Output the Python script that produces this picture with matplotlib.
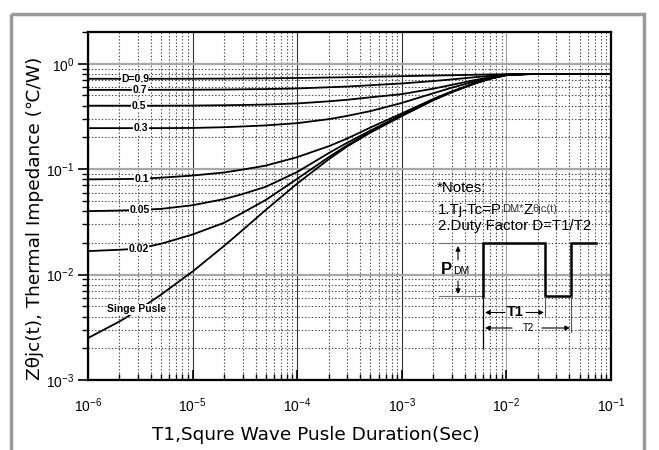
import numpy as np
import matplotlib
matplotlib.use('Agg')
import matplotlib.pyplot as plt
from matplotlib.ticker import LogLocator, NullFormatter, LogFormatterSciNotation
from matplotlib.patches import Rectangle

plt.rcParams['font.family'] = ['Liberation Sans', 'DejaVu Sans']
plt.rcParams['mathtext.fontset'] = 'custom'
plt.rcParams['mathtext.rm'] = 'Liberation Sans'
plt.rcParams['mathtext.it'] = 'Liberation Sans:italic'
plt.rcParams['mathtext.bf'] = 'Liberation Sans:bold'

# ---------------- data ----------------
t1 = [1e-6, 2e-6, 3e-6, 5e-6, 1e-5, 2e-5, 3e-5, 5e-5, 1e-4, 2e-4, 3e-4, 5e-4,
      1e-3, 2e-3, 3e-3, 5e-3, 7e-3, 1e-2, 1.5e-2, 2e-2, 5e-2, 1e-1]
z_d09 = [0.72, 0.72, 0.72, 0.72, 0.721, 0.723, 0.725, 0.727, 0.732, 0.74, 0.745,
         0.752, 0.762, 0.772, 0.778, 0.786, 0.791, 0.795, 0.798, 0.80, 0.80, 0.80]
z_d07 = [0.565, 0.565, 0.565, 0.566, 0.567, 0.569, 0.572, 0.575, 0.583, 0.598, 0.608,
         0.625, 0.65, 0.685, 0.71, 0.745, 0.768, 0.79, 0.797, 0.80, 0.80, 0.80]
z_d05 = [0.40, 0.40, 0.40, 0.40, 0.401, 0.404, 0.406, 0.410, 0.42, 0.44, 0.455,
         0.48, 0.515, 0.58, 0.63, 0.70, 0.745, 0.787, 0.797, 0.80, 0.80, 0.80]
z_d03 = [0.245, 0.245, 0.245, 0.245, 0.246, 0.250, 0.254, 0.260, 0.273, 0.298, 0.32,
         0.355, 0.425, 0.525, 0.592, 0.68, 0.735, 0.785, 0.797, 0.80, 0.80, 0.80]
z_d01 = [0.080, 0.0805, 0.081, 0.083, 0.087, 0.093, 0.099, 0.108, 0.130, 0.165, 0.195,
         0.248, 0.338, 0.463, 0.546, 0.655, 0.725, 0.782, 0.796, 0.80, 0.80, 0.80]
z_d005 = [0.040, 0.0405, 0.041, 0.042, 0.0455, 0.052, 0.058, 0.068, 0.094, 0.142, 0.178,
          0.232, 0.327, 0.456, 0.541, 0.652, 0.723, 0.781, 0.796, 0.80, 0.80, 0.80]
z_d002 = [0.0167, 0.0172, 0.0176, 0.0196, 0.024, 0.031, 0.0385, 0.051, 0.081, 0.130, 0.168,
          0.226, 0.322, 0.453, 0.539, 0.651, 0.722, 0.78, 0.795, 0.80, 0.80, 0.80]
z_single = [0.0025, 0.00359, 0.00458, 0.00646, 0.0107, 0.0187, 0.0264, 0.041, 0.073, 0.124,
            0.164, 0.222, 0.319, 0.451, 0.537, 0.650, 0.721, 0.78, 0.795, 0.80, 0.80, 0.80]

series = [z_d09, z_d07, z_d05, z_d03, z_d01, z_d005, z_d002, z_single]
curve_labels = ['D=0.9', '0.7', '0.5', '0.3', '0.1', '0.05', '0.02', 'Singe Pusle']
label_x = [2.81e-6, 3.14e-6, 3.07e-6, 3.21e-6, 3.28e-6, 3.14e-6, 3.07e-6, 2.94e-6]
label_y = [0.72, 0.565, 0.40, 0.245, 0.081, 0.041, 0.0175, 0.0047]

xticks = [1e-6, 1e-5, 1e-4, 1e-3, 1e-2, 1e-1]
yticks = [1e-3, 1e-2, 1e-1, 1e0]

W, H = 659, 450
fig = plt.figure(figsize=(W / 100, H / 100), dpi=100)
fig.patch.set_facecolor('white')

ax = fig.add_axes([88 / W, 1 - 380 / H, (611 - 88) / W, (380 - 32) / H])
ax.set_xscale('log')
ax.set_yscale('log')
ax.set_xlim(1e-6, 1e-1)
ax.set_ylim(1e-3, 2.0)

for z in series:
    ax.plot(t1, z, color='black', lw=1.3, zorder=3, solid_joinstyle='round')

for lab, lx, ly in zip(curve_labels, label_x, label_y):
    ax.text(lx, ly, lab, fontsize=7.5, fontweight='bold', ha='center', va='center',
            zorder=4, bbox=dict(facecolor='white', edgecolor='none', pad=0.3))

ax.set_xticks(xticks)
ax.set_yticks(yticks)
ax.xaxis.set_minor_locator(LogLocator(base=10, subs=np.arange(2, 10), numticks=20))
ax.yaxis.set_minor_locator(LogLocator(base=10, subs=np.arange(2, 10), numticks=20))
ax.xaxis.set_minor_formatter(NullFormatter())
ax.yaxis.set_minor_formatter(NullFormatter())
ax.xaxis.set_major_formatter(LogFormatterSciNotation())
ax.yaxis.set_major_formatter(LogFormatterSciNotation())

ax.grid(which='major', axis='y', color='#a8a8a8', lw=1.6, zorder=1)
ax.grid(which='major', axis='x', color='#333333', lw=0.8, zorder=1)
ax.grid(which='minor', axis='both', color='#444444', lw=0.8,
        linestyle=(0, (1.2, 1.8)), zorder=1)
ax.set_axisbelow(True)
for tk, loc in zip(ax.xaxis.get_major_ticks(), ax.get_xticks()):
    if abs(np.log10(loc) + 2) < 1e-6:
        tk.gridline.set_color('#a0a0a0')

ax.tick_params(axis='y', which='major', direction='out', length=7, width=1.2,
               labelsize=10, pad=3)
ax.tick_params(axis='y', which='minor', direction='out', length=4, width=1.0)
ax.tick_params(axis='x', which='major', direction='in', length=7, width=1.2,
               labelsize=10, pad=12)
ax.tick_params(axis='x', which='minor', direction='in', length=4, width=1.0)
for s in ax.spines.values():
    s.set_linewidth(1.6)
    s.set_color('black')

# ---------------- overlay in pixel coordinates ----------------
ov = fig.add_axes([0, 0, 1, 1], zorder=5)
ov.set_xlim(0, W)
ov.set_ylim(H, 0)
ov.axis('off')
ov.patch.set_alpha(0)

ov.add_patch(Rectangle((11, 14), 633, 460, fill=False, ec='#9a9a9a', lw=2.5,
                       clip_on=False))

ov.text(316, 435, 'T1,Squre Wave Pusle Duration(Sec)', fontsize=13.3,
        family=['DejaVu Sans'], ha='center', va='center')
ov.text(35, 218, 'Z\u03b8jc(t), Thermal Impedance (\u2103/W)', fontsize=13.3,
        family=['DejaVu Sans'], ha='center', va='center', rotation=90)

# notes
ov.text(437, 188, '*Notes:', fontsize=10.8, ha='left', va='center')
t_a = ov.text(438, 210, '1.Tj-Tc=P', fontsize=10.8, ha='left', va='center')
t_b = ov.annotate('DM*', xy=(1, 0.5), xycoords=t_a, xytext=(0, 0.5),
                  textcoords='offset points', fontsize=8, ha='left', va='center',
                  color='#333333')
t_c = ov.annotate('Z', xy=(1, 0.5), xycoords=t_b, xytext=(0, -0.5),
                  textcoords='offset points', fontsize=10.8, ha='left', va='center')
ov.annotate('\u03b8jc(t)', xy=(1, 0.5), xycoords=t_c, xytext=(0, 0.5),
            textcoords='offset points', fontsize=8, ha='left', va='center',
            color='#444444')
ov.text(438, 226, '2.Duty Factor D=T1/T2', fontsize=10.8, ha='left', va='center')

# pulse diagram
ov.plot([439, 483], [296, 296], color='#777777', lw=0.8)
ov.plot([439, 483], [243, 243], color='#777777', lw=0.8)
ov.plot([483, 483, 545, 545, 571, 571, 596],
        [296, 243, 243, 296, 296, 243, 243], color='black', lw=1.8,
        solid_joinstyle='miter')
ov.plot([483, 483], [296, 348], color='black', lw=0.9)
ov.plot([545, 545], [296, 316], color='#555555', lw=0.8)
ov.plot([571, 571], [296, 332], color='#555555', lw=0.8)

arrow = dict(arrowstyle='-|>', lw=0.8, color='black', mutation_scale=7,
             shrinkA=0, shrinkB=0)
ov.annotate('', xy=(458, 246), xytext=(458, 260), arrowprops=arrow)
ov.annotate('', xy=(458, 294), xytext=(458, 281), arrowprops=arrow)
p_t = ov.text(441, 270, 'P', fontsize=12, fontweight='bold', ha='left',
              va='center')
ov.annotate('DM', xy=(1, 0.5), xycoords=p_t, xytext=(0.5, -0.5),
            textcoords='offset points', fontsize=7.5, ha='left', va='center')

ov.annotate('', xy=(485, 312.5), xytext=(505, 312.5), arrowprops=arrow)
ov.annotate('', xy=(544, 312.5), xytext=(526, 312.5), arrowprops=arrow)
ov.text(515, 312.5, 'T1', fontsize=10.5, fontweight='bold', ha='center',
        va='center')
ov.annotate('', xy=(485, 328), xytext=(512, 328), arrowprops=arrow)
ov.annotate('', xy=(570, 328), xytext=(542, 328), arrowprops=arrow)
ov.text(528, 328, 'T2', fontsize=7, ha='center', va='center')

fig.savefig('out.png', dpi=100, facecolor='white')
